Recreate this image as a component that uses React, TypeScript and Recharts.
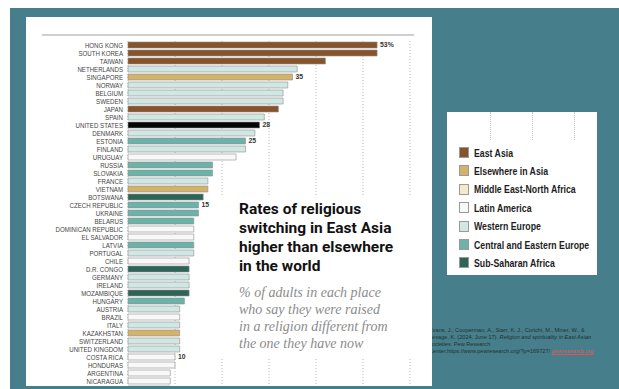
import { BarChart, Bar, XAxis, YAxis, CartesianGrid, Cell, LabelList } from 'recharts';

// Countries, top to bottom (the bottom row is cut off by the panel edge)
const countries = [
  'HONG KONG', 'SOUTH KOREA', 'TAIWAN', 'NETHERLANDS', 'SINGAPORE', 'NORWAY', 'BELGIUM',
  'SWEDEN', 'JAPAN', 'SPAIN', 'UNITED STATES', 'DENMARK', 'ESTONIA', 'FINLAND', 'URUGUAY',
  'RUSSIA', 'SLOVAKIA', 'FRANCE', 'VIETNAM', 'BOTSWANA', 'CZECH REPUBLIC', 'UKRAINE',
  'BELARUS', 'DOMINICAN REPUBLIC', 'EL SALVADOR', 'LATVIA', 'PORTUGAL', 'CHILE', 'D.R. CONGO',
  'GERMANY', 'IRELAND', 'MOZAMBIQUE', 'HUNGARY', 'AUSTRIA', 'BRAZIL', 'ITALY', 'KAZAKHSTAN',
  'SWITZERLAND', 'UNITED KINGDOM', 'COSTA RICA', 'HONDURAS', 'ARGENTINA', 'NICARAGUA',
  'SOUTH AFRICA',
];

// % raised in a different religion than the one they have now
const switched = [
  53, 53, 42, 36, 35, 34, 33, 33, 32, 29, 28, 27, 25, 25, 23, 18, 18, 17, 17, 16, 15, 15,
  14, 14, 14, 14, 14, 13, 13, 13, 13, 13, 12, 11, 11, 11, 11, 11, 11, 10, 10, 9, 9, 9,
];

const countryRegion = [
  'EA', 'EA', 'EA', 'WE', 'EL', 'WE', 'WE', 'WE', 'EA', 'WE', 'US', 'WE', 'CE', 'WE', 'LA',
  'CE', 'CE', 'WE', 'EL', 'SS', 'CE', 'CE', 'CE', 'LA', 'LA', 'CE', 'WE', 'LA', 'SS', 'WE',
  'WE', 'SS', 'CE', 'WE', 'LA', 'WE', 'EL', 'WE', 'WE', 'LA', 'LA', 'LA', 'LA', 'SS',
];

const taggedCountries = ['HONG KONG', 'SINGAPORE', 'UNITED STATES', 'ESTONIA', 'CZECH REPUBLIC', 'COSTA RICA'];
const tagTexts = ['53%', '35', '28', '25', '15', '10'];

const regionCodes = ['EA', 'EL', 'ME', 'LA', 'WE', 'CE', 'SS'];
const regionNames = [
  'East Asia', 'Elsewhere in Asia', 'Middle East-North Africa', 'Latin America',
  'Western Europe', 'Central and Eastern Europe', 'Sub-Saharan Africa',
];
const regionColors = ['#87532b', '#d4b26c', '#f4e9c9', '#f8f8f8', '#d0e7e3', '#6cb2a9', '#2e6558'];

const gridTicks = [10, 20, 30, 40, 50, 60];

const colorFor = (code: string) => (code === 'US' ? '#050505' : regionColors[regionCodes.indexOf(code)]);

const rows = countries.map((name, i) => {
  const t = taggedCountries.indexOf(name);
  return { name, value: switched[i], region: countryRegion[i], tag: t >= 0 ? tagTexts[t] : '' };
});

const TEAL = '#467f8b';
const SANS = '"Liberation Sans", Arial, sans-serif';

// no condensed face installed, so squeeze Liberation Sans horizontally
function CountryTick(props: any) {
  const { x, y, payload } = props;
  return (
    <g transform={`translate(${x},${y}) scale(0.84,1)`}>
      <text x={0} y={0} dy="0.35em" textAnchor="end" fill="#444" fontSize={7.3} fontFamily={SANS}>
        {payload.value}
      </text>
    </g>
  );
}

export default function App() {
  return (
    <div style={{ position: 'fixed', left: 0, top: 0, width: 619, height: 389, background: '#fff', overflow: 'hidden' }}>
      <div style={{ position: 'absolute', left: 10, top: 8, width: 609, height: 381, background: TEAL }} />

      {/* source note, partly tucked under the panel */}
      <div
        style={{
          position: 'absolute', left: 429, top: 327, width: 190, fontFamily: SANS,
          fontSize: 5.6, lineHeight: '7px', color: '#22312f', whiteSpace: 'nowrap',
        }}
      >
        Evans, J., Cooperman, A., Starr, K. J., Corichi, M., Miner, W., &amp;
        <br />
        Lesage, K. (2024, June 17). <i>Religion and spirituality in East Asian</i>
        <br />
        <i>societies</i>. Pew Research
        <br />
        Center.https://www.pewresearch.org/?p=169727/{' '}
        <span style={{ color: '#e0525a', textDecoration: 'underline' }}>pewresearch.org</span>
      </div>

      {/* main white panel */}
      <div style={{ position: 'absolute', left: 26, top: 17, width: 406, height: 369, background: '#fff', overflow: 'hidden' }}>
        <div style={{ position: 'absolute', left: 16, top: 17, width: 372, height: 1.5, background: '#cfcfcf' }} />
        <BarChart
          width={405}
          height={376}
          data={rows}
          layout="vertical"
          margin={{ top: 24, right: 21, bottom: 0, left: 2 }}
        >
          <CartesianGrid horizontal={false} stroke="#b9b9b9" strokeDasharray="1 2" />
          <XAxis type="number" domain={[0, 60]} ticks={gridTicks} hide />
          <YAxis
            type="category"
            dataKey="name"
            width={100}
            interval={0}
            tickLine={false}
            axisLine={false}
            tickSize={0}
            tickMargin={5}
            tick={<CountryTick />}
          />
          <Bar dataKey="value" barSize={6} stroke="#8e8e8e" strokeWidth={0.6} isAnimationActive={false}>
            {rows.map((r) => (
              <Cell key={r.name} fill={colorFor(r.region)} />
            ))}
            <LabelList
              dataKey="tag"
              position="right"
              offset={3}
              style={{ fill: '#333', fontSize: 6.8, fontWeight: 700, fontFamily: SANS }}
            />
          </Bar>
        </BarChart>

        {/* title block */}
        <div style={{ position: 'absolute', left: 189, top: 179, width: 217, height: 162, background: '#fff' }} />
        <div
          style={{
            position: 'absolute', left: 213, top: 183, width: 190, fontFamily: 'Roboto, sans-serif',
            fontWeight: 700, fontSize: 15.5, lineHeight: '19px', color: '#111',
          }}
        >
          Rates of religious
          <br />
          switching in East Asia
          <br />
          higher than elsewhere
          <br />
          in the world
        </div>
        <div
          style={{
            position: 'absolute', left: 213, top: 267, width: 190, fontFamily: '"Liberation Serif", serif',
            fontStyle: 'italic', fontSize: 14, lineHeight: '17px', color: '#8b8b8b',
          }}
        >
          % of adults in each place
          <br />
          who say they were raised
          <br />
          in a religion different from
          <br />
          the one they have now
        </div>
      </div>

      {/* legend */}
      <div style={{ position: 'absolute', left: 447, top: 112, width: 150, height: 163, background: '#fff' }}>
        {[43, 85, 127].map((x) => (
          <div key={x} style={{ position: 'absolute', left: x, top: 0, height: 28, borderLeft: '1px dotted #c4c4c4' }} />
        ))}
        {regionNames.map((name, i) => (
          <div
            key={name}
            style={{ position: 'absolute', left: 12, top: 35 + i * 18.4, height: 11, display: 'flex', alignItems: 'center' }}
          >
            <div
              style={{
                width: 10, height: 11, background: regionColors[i], border: '0.6px solid #9a9a9a',
                boxSizing: 'border-box', marginRight: 5, flexShrink: 0,
              }}
            />
            <span
              style={{
                fontFamily: SANS, fontWeight: 700, fontSize: 10.8, color: '#1d1d1d', whiteSpace: 'nowrap',
                display: 'inline-block', transform: 'scaleX(0.81)', transformOrigin: 'left center',
              }}
            >
              {name}
            </span>
          </div>
        ))}
      </div>
    </div>
  );
}
